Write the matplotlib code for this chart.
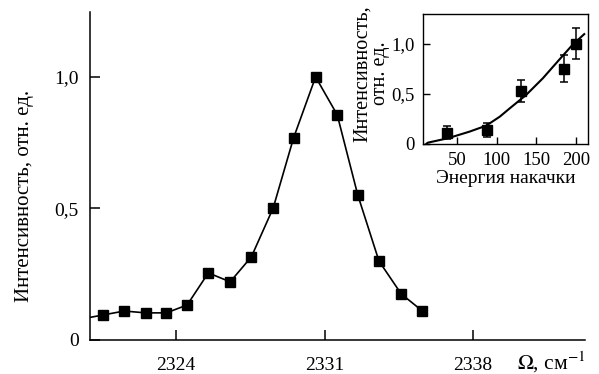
import matplotlib
matplotlib.use('Agg')
import matplotlib.pyplot as plt

plt.rcParams['font.family'] = ['Liberation Serif', 'DejaVu Serif']
plt.rcParams['mathtext.fontset'] = 'stix'

# Спектр (основной график)
omega = [2319.55, 2320.55, 2321.55, 2322.57, 2323.54, 2324.52, 2325.52, 2326.55,
         2327.55, 2328.58, 2329.54, 2330.58, 2331.6, 2332.57, 2333.57, 2334.62, 2335.62]
intens = [0.08, 0.095, 0.11, 0.103, 0.103, 0.133, 0.255, 0.221, 0.316, 0.502,
          0.768, 1.0, 0.856, 0.551, 0.300, 0.175, 0.110]

# Вставка: зависимость от энергии накачки
energy = [38, 88, 131, 185, 200]
ins_int = [0.11, 0.14, 0.53, 0.75, 1.0]
ins_err = [0.065, 0.07, 0.11, 0.135, 0.155]

# Аппроксимирующая кривая
fit_e = [12, 14, 39, 66, 87, 104, 116, 137, 158, 179, 195, 210]
fit_i = [0.0, 0.01, 0.054, 0.12, 0.18, 0.27, 0.35, 0.487, 0.654, 0.844, 0.987, 1.097]

fig = plt.figure(figsize=(5.99, 3.74), dpi=100)
ax = fig.add_axes([0.150, 0.091, 0.827, 0.877])

ax.plot(omega, intens, color='black', lw=1.2, marker='s', ms=7, mfc='black', mec='black')
ax.set_xlim(2319.93, 2343.3)
ax.set_ylim(0, 1.247)
ax.spines['top'].set_visible(False)
ax.spines['right'].set_visible(False)
for s in ['left', 'bottom']:
    ax.spines[s].set_linewidth(1.1)
ax.set_xticks([2324, 2331, 2338])
ax.set_xticklabels(['2324', '2331', '2338'])
ax.set_yticks([0, 0.5, 1.0])
ax.set_yticklabels(['0', '0,5', '1,0'])
ax.tick_params(direction='in', length=7, width=1.1, labelsize=14)
ax.tick_params(axis='x', pad=12)
ax.tick_params(axis='y', pad=8)
ax.set_ylabel('Интенсивность, отн. ед.', fontsize=15, va='center')
ax.yaxis.set_label_coords(-0.131, 0.439)
ax.text(1.0, -0.0915, r'$\mathit{\Omega}$, см$^{-1}$', transform=ax.transAxes,
        ha='right', va='baseline', fontsize=15.5)

# Вставка
axi = fig.add_axes([0.706, 0.616, 0.276, 0.347])
axi.plot(fit_e, fit_i, color='black', lw=1.5)
axi.errorbar(energy, ins_int, yerr=ins_err, fmt='s', color='black', ms=6.5,
             capsize=3, elinewidth=1.1, capthick=1.1)
axi.set_xlim(7.5, 215)
axi.set_ylim(0, 1.30)
axi.set_xticks([50, 100, 150, 200])
axi.set_yticks([0, 0.5, 1.0])
axi.set_yticklabels(['0', '0,5', '1,0'])
axi.tick_params(direction='in', length=5, width=1.0, labelsize=13.5, pad=6)
for s in axi.spines.values():
    s.set_linewidth(1.0)
axi.set_xlabel('Энергия накачки', fontsize=14, labelpad=1)
axi.set_ylabel('Интенсивность,\nотн. ед.', fontsize=14.5, linespacing=0.95, va='center')
axi.yaxis.set_label_coords(-0.31, 0.54)

fig.savefig('out.png', dpi=100)
